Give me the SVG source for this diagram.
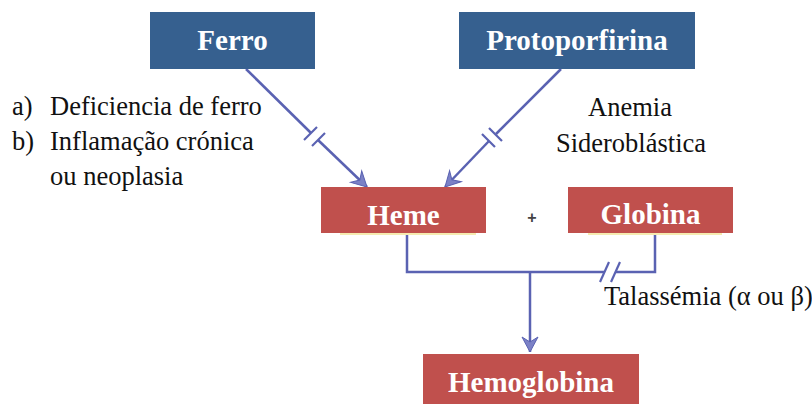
<svg xmlns="http://www.w3.org/2000/svg" width="812" height="405" viewBox="0 0 812 405">
  <style>
    .blue { fill: #36608F; }
    .red { fill: #C0504D; }
    .lbl { font-family: "Liberation Serif", "Times New Roman", serif; font-weight: bold; font-size: 29px; fill: #FFFFFF; text-anchor: middle; }
    .txt { font-family: "Liberation Serif", "Times New Roman", serif; font-size: 26.5px; fill: #111111; }
    .wire { fill: none; stroke: #5A62B2; stroke-width: 2.5; }
    .tick { fill: none; stroke: #5A62B2; stroke-width: 2.2; }
    .glow { stroke: #F5EBB0; stroke-width: 2; }
  </style>
  <defs>
    <marker id="head" markerUnits="userSpaceOnUse" markerWidth="20" markerHeight="20" viewBox="-16 -10 18 20" refX="0" refY="0" orient="auto">
      <path d="M-15,-8 L0,0 L-15,8 L-10,0 Z" fill="#7B81C6" stroke="#5A62B2" stroke-width="1"/>
    </marker>
  </defs>
  <rect width="812" height="405" fill="#FFFFFF"/>

  <!-- connectors -->
  <g id="connectors">
    <!-- Ferro to Heme, interrupted -->
    <line class="wire" x1="246" y1="69" x2="311" y2="133"/>
    <line class="wire" x1="318" y1="140" x2="367" y2="187" marker-end="url(#head)"/>
    <line class="tick" x1="304" y1="140" x2="317" y2="127"/>
    <line class="tick" x1="312" y1="146" x2="325" y2="133"/>
    <!-- Protoporfirina to Heme, interrupted -->
    <line class="wire" x1="561" y1="69" x2="496" y2="134"/>
    <line class="wire" x1="489" y1="141" x2="445" y2="187" marker-end="url(#head)"/>
    <line class="tick" x1="489" y1="128" x2="502" y2="141"/>
    <line class="tick" x1="482" y1="134" x2="495" y2="147"/>
    <!-- Heme + Globina joined into Hemoglobina -->
    <polyline class="wire" points="407,233 407,272 604,272"/>
    <polyline class="wire" points="616,272 655,272 655,233"/>
    <line class="tick" x1="600" y1="282" x2="609" y2="262"/>
    <line class="tick" x1="611" y1="282" x2="620" y2="262"/>
    <line class="wire" x1="530" y1="272" x2="530" y2="352" marker-end="url(#head)"/>
  </g>

  <!-- nodes -->
  <g id="ferro">
    <rect class="blue" x="150" y="12" width="165" height="57"/>
    <text class="lbl" x="232.5" y="50">Ferro</text>
  </g>
  <g id="protoporfirina">
    <rect class="blue" x="459" y="12" width="236" height="57"/>
    <text class="lbl" x="577" y="50">Protoporfirina</text>
  </g>
  <g id="heme">
    <line class="glow" x1="340" y1="234" x2="476" y2="234"/>
    <rect class="red" x="321" y="187" width="165" height="46"/>
    <text class="lbl" x="403.5" y="225">Heme</text>
  </g>
  <g id="globina">
    <line class="glow" x1="588" y1="234" x2="722" y2="234"/>
    <rect class="red" x="568" y="187" width="165" height="46"/>
    <text class="lbl" x="650.5" y="224">Globina</text>
  </g>
  <g id="hemoglobina">
    <rect class="red" x="423" y="354" width="216" height="50"/>
    <text class="lbl" x="531" y="392">Hemoglobina</text>
  </g>

  <!-- annotations -->
  <g id="notes">
    <text x="532" y="223" font-family="Liberation Sans, Arial, sans-serif" font-size="16" font-weight="bold" fill="#444444" text-anchor="middle">+</text>
    <text class="txt" x="12" y="115">a)</text>
    <text class="txt" x="50" y="115">Deficiencia de ferro</text>
    <text class="txt" x="12" y="150">b)</text>
    <text class="txt" x="50" y="150">Inflamação crónica</text>
    <text class="txt" x="50" y="185">ou neoplasia</text>
    <text class="txt" x="630" y="116" text-anchor="middle">Anemia</text>
    <text class="txt" x="631" y="152" text-anchor="middle">Sideroblástica</text>
    <text class="txt" x="604" y="305">Talassémia (α ou β)</text>
  </g>
</svg>
